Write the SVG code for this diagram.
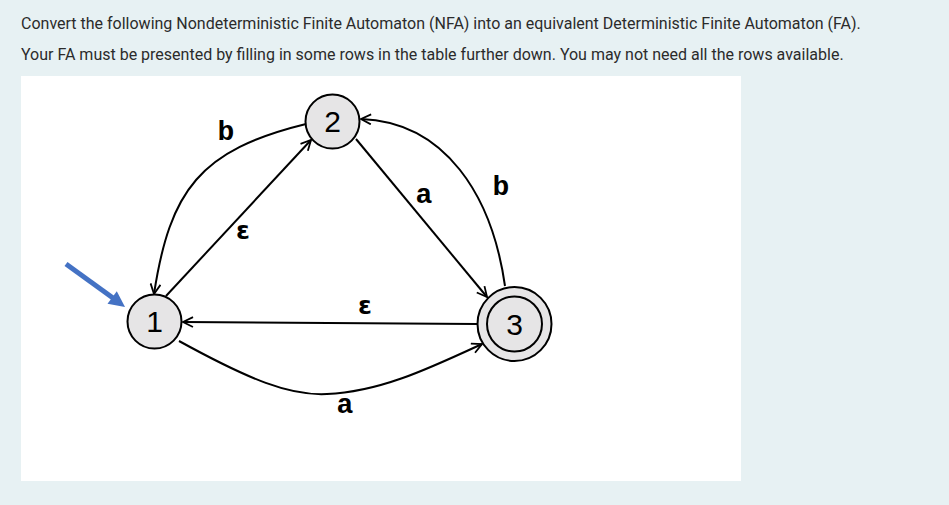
<svg xmlns="http://www.w3.org/2000/svg" width="949" height="505" viewBox="0 0 949 505">
<defs>
<style>
.q{font-family:Roboto,"Liberation Sans",sans-serif;font-size:16px;fill:#2b2b2b}
.edge{fill:none;stroke:#000;stroke-width:2}
.lbl{font-family:"Liberation Mono","Courier New",monospace;font-weight:bold;font-size:28px;fill:#000;text-anchor:middle}
.eps{font-family:"DejaVu Sans","Liberation Sans",sans-serif;font-weight:bold;font-size:25px;fill:#000;text-anchor:middle}
.node{fill:#e6e5e6;stroke:#000;stroke-width:2}
.num{font-family:"Liberation Sans","Noto Sans",sans-serif;font-size:30px;fill:#000;text-anchor:middle}
</style>
<marker id="ah" markerWidth="12" markerHeight="12" refX="11" refY="6" orient="auto" markerUnits="userSpaceOnUse">
<path d="M1,1 L11,6 L1,11" fill="none" stroke="#000" stroke-width="1.8"/>
</marker>
</defs>
<rect x="0" y="0" width="949" height="505" fill="#e7f1f3"/>
<rect x="21" y="76" width="720" height="405" fill="#fff"/>
<text class="q" x="21" y="29">Convert the following Nondeterministic Finite Automaton (NFA) into an equivalent Deterministic Finite Automaton (FA).</text>
<text class="q" x="21" y="60">Your FA must be presented by filling in some rows in the table further down. You may not need all the rows available.</text>
<g id="connectors">
<path class="edge" d="M166,296 L311,140" marker-end="url(#ah)"/>
<path class="edge" d="M306,124 C200,150 170,190 154,294" marker-end="url(#ah)"/>
<path class="edge" d="M356,139 L487,297" marker-end="url(#ah)"/>
<path class="edge" d="M505,286 C492,195 445,122 361,119" marker-end="url(#ah)"/>
<path class="edge" d="M477,324 L183,322" marker-end="url(#ah)"/>
<path class="edge" d="M179,341 C250,380 290,396 327,394 C380,392 430,368 482,344" marker-end="url(#ah)"/>
<g id="start-arrow">
<line x1="66" y1="264" x2="113" y2="298" stroke="#4472c4" stroke-width="5"/>
<polygon points="125,307 107.5,303.8 116.8,291.2" fill="#4472c4"/>
</g>
</g>
<g id="labels">
<text class="lbl" x="226" y="140">b</text>
<text class="eps" x="243" y="239">ε</text>
<text class="lbl" x="424" y="203">a</text>
<text class="lbl" x="501" y="195">b</text>
<text class="eps" x="365" y="314">ε</text>
<text class="lbl" x="345" y="413">a</text>
</g>
<g id="node1">
<circle class="node" cx="154.5" cy="321.5" r="27"/>
<text class="num" x="154.5" y="332">1</text>
</g>
<g id="node2">
<circle class="node" cx="332.5" cy="121.5" r="27"/>
<text class="num" x="332.5" y="132">2</text>
</g>
<g id="node3">
<circle class="node" cx="514.5" cy="324" r="37"/>
<circle cx="514.5" cy="324" r="27.5" fill="none" stroke="#000" stroke-width="2"/>
<text class="num" x="514.5" y="334.5">3</text>
</g>
</svg>
